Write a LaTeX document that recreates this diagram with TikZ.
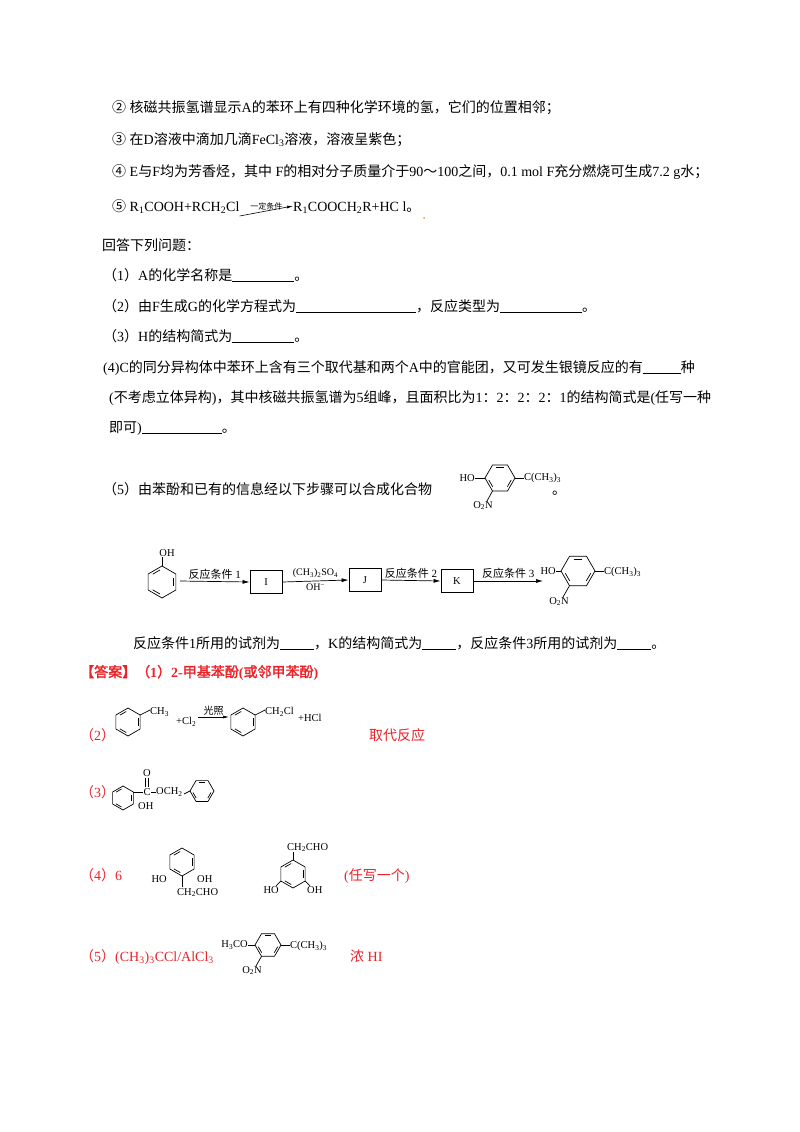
\documentclass[tikz,border=0pt]{standalone}
\usetikzlibrary{arrows.meta}
\usepackage{fontspec}
\setmainfont{Liberation Serif}
\newfontfamily\cjk{Noto Sans CJK SC}[BoldFont=Noto Sans CJK SC,BoldFeatures={FakeBold=2}]
\XeTeXinterchartokenstate=1
\newXeTeXintercharclass\CJKcls
\newcount\cc
\newcommand\setcls[2]{\cc=#1\relax\loop\XeTeXcharclass\cc=\CJKcls\ifnum\cc<#2\advance\cc by 1\repeat}
\setcls{"4E00}{"9FFF}
\setcls{"3000}{"303F}
\setcls{"FF00}{"FFEF}
\setcls{"2460}{"2473}
\XeTeXinterchartoks 0 \CJKcls = {\cjk}
\XeTeXinterchartoks 4095 \CJKcls = {\cjk}
\XeTeXinterchartoks \CJKcls 0 = {\rmfamily}
\XeTeXinterchartoks \CJKcls 4095 = {\rmfamily}
\definecolor{ansred}{RGB}{235,35,40}
\newcommand\blank[1]{\underline{\hbox to #1pt{}}}
\newcommand\ring[4]{%
 \begin{scope}[shift={(#1,#2)}]
 \draw[bond] ({#4}:#3)--({#4+60}:#3)--({#4+120}:#3)--({#4+180}:#3)--({#4+240}:#3)--({#4+300}:#3)--cycle;
 \foreach \k in {0,120,240}{\draw[bond] ({#4+\k+10}:{0.76*#3})--({#4+\k+50}:{0.76*#3});}
 \end{scope}}
\tikzset{
 txt/.style={anchor=base west,inner sep=0pt,font=\fontsize{14}{16}\selectfont},
 chem/.style={inner sep=0pt,font=\fontsize{10.5}{12}\selectfont},
 bond/.style={line width=0.7pt},
 arr/.style={line width=0.7pt,-{Latex[length=7pt,width=4pt]}},
 boxn/.style={draw,line width=0.8pt,minimum width=32pt,minimum height=23pt,inner sep=0pt,font=\fontsize{10.5}{12}\selectfont},
 red/.style={text=ansred}
}
\begin{document}
\begin{tikzpicture}[x=1pt,y=-1pt]
\useasboundingbox[fill=white] (0,0) rectangle (800,1132);
% conditions
\node[txt] (l2) at (112,112) {② 核磁共振氢谱显示A的苯环上有四种化学环境的氢，它们的位置相邻；};
\node[txt] (l3) at (112,144) {③ 在D溶液中滴加几滴FeCl\textsubscript{3}溶液，溶液呈紫色；};
\node[txt] (l4) at (112,176) {④ E与F均为芳香烃，其中 F的相对分子质量介于90～100之间，0.1 mol F充分燃烧可生成7.2 g水；};
\node[txt] (l5) at (112,211) {⑤ R\textsubscript{1}COOH+RCH\textsubscript{2}Cl};
\coordinate (a5e) at (293,206);
\draw[line width=0.6pt,-{Latex[length=6pt,width=3pt]}] ([yshift=-5pt]l5.base east) -- node[above=1pt,inner sep=0pt,font=\fontsize{8}{9}\selectfont]{一定条件} (a5e);
\node[txt] (l5b) at (293,211) {R\textsubscript{1}COOCH\textsubscript{2}R+HC l。};
\fill[orange!80!yellow] (424,218) circle (1pt);
% questions
\node[txt] (q0) at (102,250) {回答下列问题：};
\node[txt] (q1) at (103,280) {（1）A的化学名称是\blank{62}。};
\node[txt] (q2) at (103,311) {（2）由F生成G的化学方程式为\blank{120}，反应类型为\blank{82}。};
\node[txt] (q3) at (103,341) {（3）H的结构简式为\blank{62}。};
\node[txt] (q4) at (103,372) {(4)C的同分异构体中苯环上含有三个取代基和两个A中的官能团，又可发生银镜反应的有\blank{38}种};
\node[txt] (q4b) at (109,402) {(不考虑立体异构)，其中核磁共振氢谱为5组峰，且面积比为1：2：2：2：1的结构简式是(任写一种};
\node[txt] (q4c) at (109,432) {即可)\blank{80}。};
\node[txt] (q5) at (103,494) {（5）由苯酚和已有的信息经以下步骤可以合成化合物};
\node[txt] (q5d) at (552,494) {。};
\ring{500}{478}{15}{0}
\draw[bond] (485,478)--(475,478); \node[chem,anchor=east] (qho) at (475,478) {HO};
\draw[bond] (515,478)--(524,478); \node[chem,anchor=west] (qtb) at (524,478) {C(CH\textsubscript{3})\textsubscript{3}};
\draw[bond] (492.5,491)--(487,501); \node[chem,anchor=north] (qno) at (483,501) {O\textsubscript{2}N};
% scheme
\ring{162}{582}{16}{90}
\draw[bond] (162,566)--(162,557); \node[chem,anchor=south] (soh) at (167,557) {OH};
\node[boxn] (I) at (266,582) {I};
\node[boxn] (J) at (365,580) {J};
\node[boxn] (K) at (457,581) {K};
\coordinate (s0) at (180,581);
\coordinate (pt) at (543,581);
\draw[arr] (s0) -- node[above=2pt,inner sep=0pt,font=\fontsize{11}{13}\selectfont]{反应条件 1} (I.west);
\draw[arr] (I.east) -- node[above=3pt,inner sep=0pt,font=\fontsize{10}{12}\selectfont]{(CH\textsubscript{3})\textsubscript{2}SO\textsubscript{4}} node[below=3pt,inner sep=0pt,font=\fontsize{10}{12}\selectfont]{OH\textsuperscript{\textminus}} (J.west);
\draw[arr] (J.east) -- node[above=2pt,inner sep=0pt,font=\fontsize{11}{13}\selectfont]{反应条件 2} (K.west);
\draw[arr] (K.east) -- node[above=2pt,inner sep=0pt,font=\fontsize{11}{13}\selectfont]{反应条件 3} (pt);
\ring{578}{571}{17}{0}
\draw[bond] (561,571)--(556,571); \node[chem,anchor=east] (sho) at (556,571) {HO};
\draw[bond] (595,571)--(604,571); \node[chem,anchor=west] (stb) at (604,572) {C(CH\textsubscript{3})\textsubscript{3}};
\draw[bond] (569.5,585.7)--(563,597); \node[chem,anchor=north] (sno) at (559,597) {O\textsubscript{2}N};
\node[txt] (q6) at (133,648) {反应条件1所用的试剂为\blank{34}，K的结构简式为\blank{34}，反应条件3所用的试剂为\blank{34}。};
% answers
\node[txt,red,font=\fontsize{14}{16}\selectfont\bfseries] (ans) at (80,677) {【答案】（1）2-甲基苯酚(或邻甲苯酚)};
\node[txt,red] (a2) at (80,740) {（2）};
\ring{128}{722}{14}{90}
\draw[bond] (140.1,715)--(150,710); \node[chem,anchor=west] (ch3) at (150,712) {CH\textsubscript{3}};
\node[chem,anchor=west] (cl2) at (176,722) {+Cl\textsubscript{2}};
\coordinate (g1) at (198,717); \coordinate (g2) at (229,717);
\draw[line width=0.6pt,-{Latex[length=6pt,width=3pt]}] (g1) -- node[above=1pt,inner sep=0pt,font=\fontsize{10}{12}\selectfont]{光照} (g2);
\ring{243}{722}{14}{90}
\draw[bond] (255.1,715)--(265,710); \node[chem,anchor=west] (ch2cl) at (265,712) {CH\textsubscript{2}Cl};
\node[chem,anchor=west] (hcl) at (298,718) {+HCl};
\node[txt,red] (a2t) at (369,740) {取代反应};
\node[txt,red] (a3) at (80,797) {（3）};
\ring{123}{798}{12}{90}
\draw[bond] (133.4,792)--(143,792);
\node[chem] (cc3) at (147,792) {C};
\node[chem] (oo3) at (147,773) {O};
\draw[bond] (145.8,778)--(145.8,787); \draw[bond] (148.2,778)--(148.2,787);
\draw[bond] (151,792)--(156,792);
\node[chem,anchor=west] (och) at (156,792) {OCH\textsubscript{2}};
\ring{202}{791}{12}{0}
\draw[bond] (184,794)--(190,791);
\node[chem,anchor=west] (oh3) at (138,806) {OH};
\node[txt,red] (a4) at (80,880) {（4）6};
\ring{182}{862}{14}{90}
\node[chem,anchor=east] (ho4a) at (167,879) {HO};
\node[chem,anchor=west] (oh4a) at (197,879) {OH};
\draw[bond] (182,876)--(182,887); \node[chem,anchor=north west] (cho4a) at (177,888) {CH\textsubscript{2}CHO};
\ring{293}{874}{14}{90}
\draw[bond] (293,860)--(293,852); \node[chem,anchor=south west] (cho4b) at (287,852) {CH\textsubscript{2}CHO};
\draw[bond] (280.9,881)--(276,886); \node[chem,anchor=north east] (ho4b) at (279,886) {HO};
\draw[bond] (305.1,881)--(310,886); \node[chem,anchor=north west] (oh4b) at (307,886) {OH};
\node[txt,red] (a4t) at (344,880) {(任写一个)};
\node[txt,red] (a5) at (80,961) {（5）(CH\textsubscript{3})\textsubscript{3}CCl/AlCl\textsubscript{3}};
\ring{268}{945}{13}{0}
\draw[bond] (255,945)--(248,945); \node[chem,anchor=east] (h3co) at (248,945) {H\textsubscript{3}CO};
\draw[bond] (281,945)--(290,945); \node[chem,anchor=west] (tb5) at (290,946) {C(CH\textsubscript{3})\textsubscript{3}};
\draw[bond] (261.5,956.3)--(256,966); \node[chem,anchor=north] (no5) at (252,966) {O\textsubscript{2}N};
\node[txt,red] (a5t) at (350,961) {浓 HI};
\end{tikzpicture}
\end{document}
